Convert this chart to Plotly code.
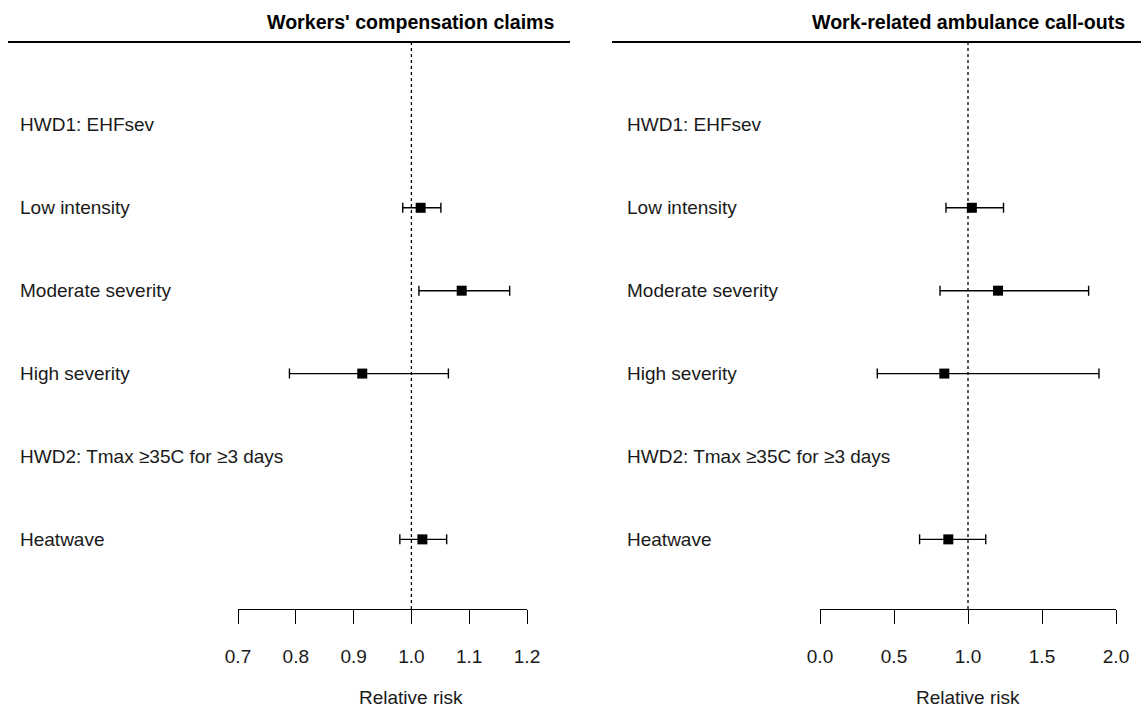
import plotly.graph_objects as go

W, H = 1141, 707

row_labels = ["HWD1: EHFsev", "Low intensity", "Moderate severity", "High severity",
              "HWD2: Tmax \u226535C for \u22653 days", "Heatwave"]
rows = [1, 2, 3, 4, 5, 6]

# Workers' compensation claims
wc_est = [None, 1.016, 1.087, 0.915, None, 1.019]
wc_lo = [None, 0.985, 1.013, 0.789, None, 0.980]
wc_hi = [None, 1.051, 1.170, 1.064, None, 1.061]
wc_ticks = [0.7, 0.8, 0.9, 1.0, 1.1, 1.2]

# Work-related ambulance call-outs
am_est = [None, 1.026, 1.203, 0.840, None, 0.867]
am_lo = [None, 0.851, 0.811, 0.387, None, 0.673]
am_hi = [None, 1.240, 1.815, 1.885, None, 1.120]
am_ticks = [0.0, 0.5, 1.0, 1.5, 2.0]

titles = ["Workers' compensation claims", "Work-related ambulance call-outs"]

FONT = "Liberation Sans, Arial, sans-serif"
FS = 19

def px(x):
    return x / W

def py(y):
    return 1 - y / H

fig = go.Figure()

def add_panel(est, lo, hi, xa, ya):
    xs, ys, ep, em = [], [], [], []
    for r, e, l, h in zip(rows, est, lo, hi):
        if e is None:
            continue
        xs.append(e); ys.append(r); ep.append(h - e); em.append(e - l)
    fig.add_trace(go.Scatter(
        x=xs, y=ys, mode="markers", xaxis=xa, yaxis=ya,
        marker=dict(symbol="square", size=10, color="black"),
        error_x=dict(type="data", symmetric=False, array=ep, arrayminus=em,
                     color="black", thickness=1.4, width=5),
        showlegend=False, hoverinfo="skip"))

add_panel(wc_est, wc_lo, wc_hi, "x", "y")
add_panel(am_est, am_lo, am_hi, "x2", "y2")

ydom = [py(609), py(42)]
yrange = [6.84, 0]

axis_common = dict(showgrid=False, zeroline=False, showline=True, linecolor="black",
                   linewidth=1.4, ticks="outside", ticklen=14, tickwidth=1.4,
                   tickcolor="black", tickformat=".1f", ticklabelstandoff=16,
                   tickfont=dict(family=FONT, size=FS, color="#1a1a1a"),
                   fixedrange=True, automargin=False)

fig.update_layout(
    width=W, height=H,
    margin=dict(l=0, r=0, t=0, b=0, autoexpand=False),
    paper_bgcolor="white", plot_bgcolor="white",
    xaxis=dict(domain=[px(238), px(527)], range=[0.7, 1.2], tickvals=wc_ticks,
               anchor="y", **axis_common),
    yaxis=dict(domain=ydom, range=yrange, visible=False, anchor="x", automargin=False),
    xaxis2=dict(domain=[px(820), px(1116)], range=[0.0, 2.0], tickvals=am_ticks,
                anchor="y2", **axis_common),
    yaxis2=dict(domain=ydom, range=yrange, visible=False, anchor="x2", automargin=False),
)

shapes = []
annotations = []
panels = [
    dict(xref="x", yref="y", line=(8, 570), lab_x=18, title=titles[0]),
    dict(xref="x2", yref="y2", line=(612, 1141), lab_x=625, title=titles[1]),
]
for p in panels:
    # reference line at RR=1
    shapes.append(dict(type="line", xref=p["xref"], yref=p["yref"] + " domain",
                       x0=1, x1=1, y0=0, y1=1,
                       line=dict(color="black", width=1.3, dash="dot")))
    # top rule
    shapes.append(dict(type="line", xref="paper", yref="paper",
                       x0=px(p["line"][0]), x1=px(p["line"][1]), y0=py(42), y1=py(42),
                       line=dict(color="black", width=2)))
    for r, lab in zip(rows, row_labels):
        annotations.append(dict(xref="paper", yref=p["yref"], x=px(p["lab_x"]), y=r,
                                text=lab, showarrow=False, xanchor="left", yanchor="middle",
                                font=dict(family=FONT, size=FS, color="#1a1a1a")))
    annotations.append(dict(xref=p["xref"], yref="paper", x=1.0, y=py(22),
                            text="<b>" + p["title"] + "</b>", showarrow=False,
                            xanchor="center", yanchor="middle",
                            font=dict(family=FONT, size=19.6, color="black")))
    annotations.append(dict(xref=p["xref"], yref="paper", x=1.0, y=py(697),
                            text="Relative risk", showarrow=False,
                            xanchor="center", yanchor="middle",
                            font=dict(family=FONT, size=FS, color="#1a1a1a")))

fig.update_layout(shapes=shapes, annotations=annotations)
fig.write_html("out.html")
